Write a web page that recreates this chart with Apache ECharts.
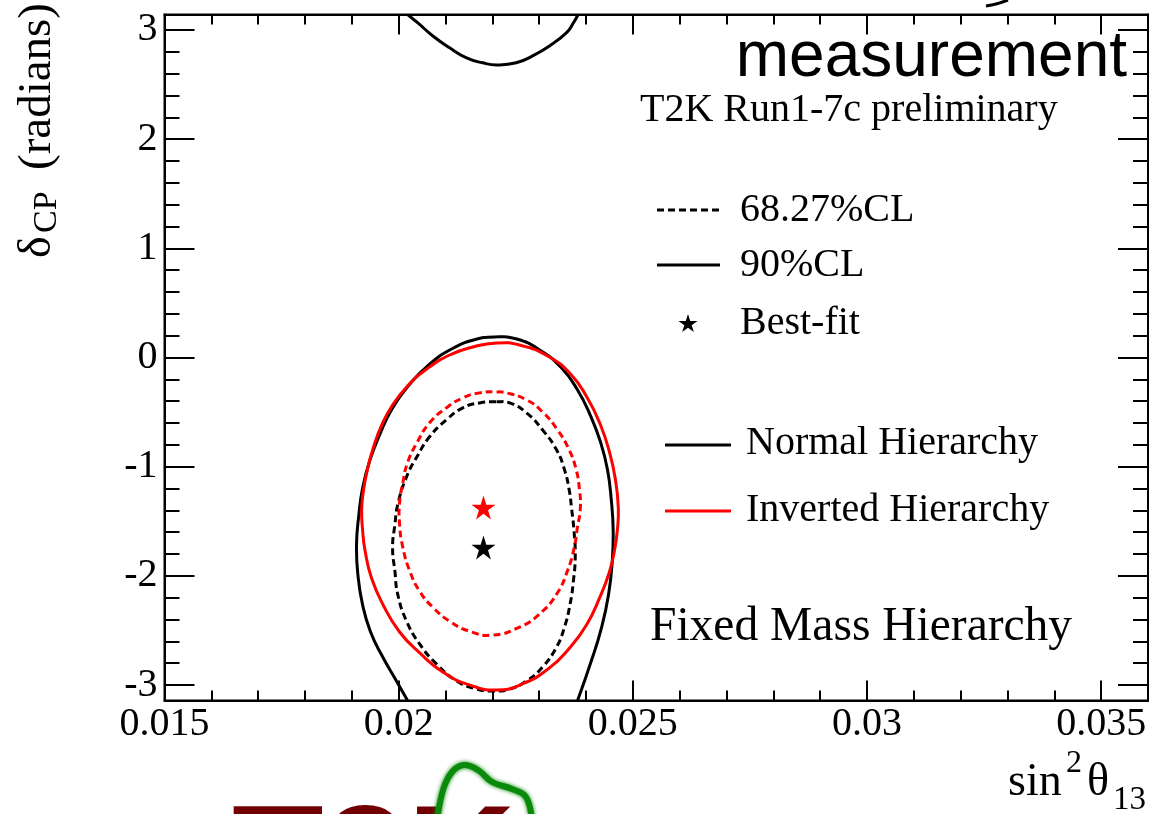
<!DOCTYPE html>
<html>
<head>
<meta charset="utf-8">
<script src="https://cdn.jsdelivr.net/npm/echarts@6/dist/echarts.min.js"></script>
<style>
  html, body { margin: 0; padding: 0; background: #fff; }
  #chart { width: 1154px; height: 814px; }
</style>
</head>
<body>
<div id="chart"></div>
<script>
// sin^2(theta13) vs delta_CP allowed regions, fixed mass hierarchy

const xTicks = [0.015, 0.02, 0.025, 0.03, 0.035];
const xTickLabels = ['0.015', '0.02', '0.025', '0.03', '0.035'];
const xMinorTicks = [0.015, 0.016, 0.017, 0.018, 0.019, 0.020, 0.021, 0.022, 0.023, 0.024, 0.025,
                     0.026, 0.027, 0.028, 0.029, 0.030, 0.031, 0.032, 0.033, 0.034, 0.035, 0.036];
const yTicks = [-3, -2, -1, 0, 1, 2, 3];
const yTickLabels = ['-3', '-2', '-1', '0', '1', '2', '3'];
const yMinorTicks = [-3, -2.8, -2.6, -2.4, -2.2, -2, -1.8, -1.6, -1.4, -1.2, -1, -0.8, -0.6, -0.4, -0.2,
                     0, 0.2, 0.4, 0.6, 0.8, 1, 1.2, 1.4, 1.6, 1.8, 2, 2.2, 2.4, 2.6, 2.8, 3];

// Normal hierarchy, 90% CL: lower lobe runs off the bottom at -pi and re-enters at +pi
const nh90Lower = [
  [0.02019, -3.1416], [0.01994, -2.953], [0.01966, -2.743], [0.01940, -2.514], [0.01923, -2.266],
  [0.01913, -1.992], [0.01910, -1.717], [0.01915, -1.442], [0.01923, -1.195], [0.01938, -0.948],
  [0.01960, -0.701], [0.01987, -0.462], [0.02024, -0.243], [0.02066, -0.060], [0.02113, 0.078],
  [0.02160, 0.160], [0.02205, 0.188], [0.02252, 0.169], [0.02301, 0.069], [0.02348, -0.096],
  [0.02382, -0.298], [0.02409, -0.527], [0.02431, -0.774], [0.02446, -1.030], [0.02454, -1.305],
  [0.02458, -1.580], [0.02456, -1.873], [0.02448, -2.175], [0.02433, -2.477], [0.02412, -2.770],
  [0.02382, -3.1416]
];
const nh90Upper = [
  [0.02019, 3.1416], [0.02041, 3.064], [0.02073, 2.945], [0.02109, 2.836], [0.02145, 2.744],
  [0.02179, 2.699], [0.02209, 2.680], [0.02251, 2.699], [0.02286, 2.763], [0.02322, 2.854],
  [0.02358, 2.973], [0.02373, 3.064], [0.02383, 3.1416]
];
// Inverted hierarchy, 90% CL (closed)
const ih90 = [
  [0.02209, 0.133], [0.02258, 0.114], [0.02318, 0.014], [0.02367, -0.151], [0.02403, -0.371],
  [0.02431, -0.618], [0.02450, -0.865], [0.02463, -1.122], [0.02469, -1.378], [0.02467, -1.580],
  [0.02461, -1.763], [0.02450, -1.964], [0.02429, -2.202], [0.02401, -2.450], [0.02365, -2.660],
  [0.02322, -2.843], [0.02264, -2.990], [0.02209, -3.045], [0.02151, -2.999], [0.02094, -2.880],
  [0.02045, -2.706], [0.02002, -2.514], [0.01968, -2.276], [0.01942, -2.019], [0.01928, -1.763],
  [0.01923, -1.580], [0.01921, -1.397], [0.01925, -1.213], [0.01934, -1.012], [0.01947, -0.810],
  [0.01964, -0.618], [0.01987, -0.435], [0.02019, -0.261], [0.02060, -0.105], [0.02109, 0.023],
  [0.02158, 0.096]
];
// Normal hierarchy, 68.27% CL (closed)
const nh68 = [
  [0.02209, -0.406], [0.02237, -0.416], [0.02273, -0.507], [0.02307, -0.662], [0.02337, -0.845],
  [0.02354, -1.027], [0.02364, -1.210], [0.02369, -1.374], [0.02375, -1.621], [0.02377, -1.831],
  [0.02373, -2.050], [0.02366, -2.260], [0.02354, -2.470], [0.02337, -2.653], [0.02307, -2.836],
  [0.02273, -2.963], [0.02237, -3.037], [0.02200, -3.055], [0.02166, -3.037], [0.02124, -2.963],
  [0.02081, -2.808], [0.02045, -2.626], [0.02017, -2.416], [0.01998, -2.169], [0.01992, -1.959],
  [0.01987, -1.740], [0.01992, -1.530], [0.01998, -1.347], [0.02017, -1.091], [0.02039, -0.909],
  [0.02066, -0.726], [0.02102, -0.571], [0.02137, -0.461], [0.02173, -0.416]
];
// Inverted hierarchy, 68.27% CL (closed)
const ih68 = [
  [0.02209, -0.315], [0.02230, -0.324], [0.02273, -0.388], [0.02307, -0.498], [0.02339, -0.662],
  [0.02364, -0.845], [0.02379, -1.027], [0.02386, -1.210], [0.02388, -1.374], [0.02381, -1.575],
  [0.02375, -1.740], [0.02360, -1.959], [0.02337, -2.169], [0.02300, -2.352], [0.02258, -2.470],
  [0.02200, -2.543], [0.02151, -2.507], [0.02109, -2.416], [0.02073, -2.288], [0.02045, -2.142],
  [0.02024, -1.959], [0.02009, -1.740], [0.02002, -1.530], [0.02002, -1.329], [0.02009, -1.146],
  [0.02019, -0.963], [0.02039, -0.781], [0.02066, -0.598], [0.02102, -0.461], [0.02137, -0.370],
  [0.02173, -0.324]
];
const bestFitNH = [[0.021811, -1.740]];
const bestFitIH = [[0.021811, -1.374]];

const SERIF = '"Liberation Serif", "Times New Roman", serif';
const SANS = '"Liberation Sans", Arial, sans-serif';
const RED = '#ff0000';
const STAR = 'path://M0,-10L2.245,-3.09L9.51,-3.09L3.633,1.18L5.88,8.09L0,3.82L-5.88,8.09L-3.633,1.18L-9.51,-3.09L-2.245,-3.09Z';

const X_MIN = 0.015, X_MAX = 0.036;
const Y_MIN = -Math.PI, Y_MAX = Math.PI;

function labelFor(values, labels) {
  return function (v) {
    for (let i = 0; i < values.length; i++) {
      if (Math.abs(values[i] - v) < 1e-9) return labels[i];
    }
    return '';
  };
}

function makeAxis(kind, position, ticks, tickLen, showLine, labels) {
  const isX = kind === 'x';
  const ax = {
    type: 'value',
    position: position,
    min: isX ? X_MIN : Y_MIN,
    max: isX ? X_MAX : Y_MAX,
    axisLine: { show: showLine, onZero: false, lineStyle: { color: '#000', width: 2 } },
    splitLine: { show: false },
    axisTick: { show: true, inside: true, length: tickLen, customValues: ticks,
                lineStyle: { color: '#000', width: 2 } },
    axisLabel: { show: false }
  };
  if (labels) {
    ax.axisLabel = {
      show: true,
      customValues: ticks,
      formatter: labelFor(ticks, labels),
      color: '#000',
      fontFamily: SERIF,
      fontSize: 40,
      margin: isX ? 4 : 7
    };
  }
  return ax;
}

function starPoints(cx, cy, r) {
  const pts = [];
  for (let i = 0; i < 10; i++) {
    const a = -Math.PI / 2 + i * Math.PI / 5;
    const rr = i % 2 === 0 ? r : r * 0.382;
    pts.push([cx + rr * Math.cos(a), cy + rr * Math.sin(a)]);
  }
  return pts;
}

// One smooth contour per series: the points go through the cartesian scales via api.coord.
function contour(name, data, color, dashed, closed) {
  return {
    name: name,
    type: 'custom',
    coordinateSystem: 'cartesian2d',
    data: data,
    encode: { x: 0, y: 1 },
    clip: true,
    silent: true,
    renderItem: function (params, api) {
      if (params.dataIndex !== 0) return null;
      const pts = data.map(function (p) { return api.coord(p); });
      return {
        type: closed ? 'polygon' : 'polyline',
        shape: { points: pts, smooth: 0.5 },
        style: { fill: 'none', stroke: color, lineWidth: 3,
                 lineDash: dashed ? [7, 4] : null, lineJoin: 'round' }
      };
    }
  };
}

function txt(x, y, text, size, family, align, extra) {
  return Object.assign({
    type: 'text', x: x, y: y,
    style: { text: text, font: size + 'px ' + family, fill: '#000',
             textAlign: align || 'left', textVerticalAlign: 'middle', verticalAlign: 'middle' }
  }, extra || {});
}

const option = {
  animation: false,
  backgroundColor: '#fff',
  grid: {
    left: 164.5, right: 6, top: 14.5, bottom: 113.5,
    show: true, borderColor: '#000', borderWidth: 2,
    containLabel: false, outerBoundsMode: 'none'
  },
  xAxis: [
    makeAxis('x', 'bottom', xTicks, 20, true, xTickLabels),
    makeAxis('x', 'bottom', xMinorTicks, 10, false, null),
    makeAxis('x', 'top', xTicks, 20, true, null),
    makeAxis('x', 'top', xMinorTicks, 10, false, null)
  ],
  yAxis: [
    makeAxis('y', 'left', yTicks, 30, true, yTickLabels),
    makeAxis('y', 'left', yMinorTicks, 15, false, null),
    makeAxis('y', 'right', yTicks, 30, true, null),
    makeAxis('y', 'right', yMinorTicks, 15, false, null)
  ],
  series: [
    contour('NH 90% CL', nh90Lower, '#000', false, false),
    contour('NH 90% CL (upper)', nh90Upper, '#000', false, false),
    contour('NH 68.27% CL', nh68, '#000', true, true),
    contour('IH 90% CL', ih90, RED, false, true),
    contour('IH 68.27% CL', ih68, RED, true, true),
    { name: 'NH best fit', type: 'scatter', data: bestFitNH, symbol: STAR, symbolSize: 24,
      itemStyle: { color: '#000', opacity: 1 }, silent: true },
    { name: 'IH best fit', type: 'scatter', data: bestFitIH, symbol: STAR, symbolSize: 24,
      itemStyle: { color: RED, opacity: 1 }, silent: true }
  ],
  graphic: { elements: [
    // headline and run label
    txt(1127, 58, 'measurement', 64, SANS, 'right'),
    txt(640, 110, 'T2K Run1-7c preliminary', 40, SERIF, 'left'),
    // confidence-level key
    { type: 'line', shape: { x1: 657, y1: 210, x2: 720, y2: 210 },
      style: { stroke: '#000', lineWidth: 3, lineDash: [7, 4] } },
    txt(740, 210, '68.27%CL', 40, SERIF, 'left'),
    { type: 'line', shape: { x1: 657, y1: 265, x2: 720, y2: 265 },
      style: { stroke: '#000', lineWidth: 3 } },
    txt(740, 265, '90%CL', 40, SERIF, 'left'),
    { type: 'polygon', shape: { points: starPoints(688, 324, 10) }, style: { fill: '#000' } },
    txt(740, 323, 'Best-fit', 40, SERIF, 'left'),
    // hierarchy key
    { type: 'line', shape: { x1: 665, y1: 445, x2: 731, y2: 445 },
      style: { stroke: '#000', lineWidth: 3 } },
    txt(746, 443, 'Normal Hierarchy', 40, SERIF, 'left'),
    { type: 'line', shape: { x1: 665, y1: 511, x2: 731, y2: 511 },
      style: { stroke: RED, lineWidth: 3 } },
    txt(746, 510, 'Inverted Hierarchy', 40, SERIF, 'left'),
    txt(650, 628, 'Fixed Mass Hierarchy', 47.5, SERIF, 'left'),
    // y-axis title, reading upward
    { type: 'group', x: 38, y: 258, rotation: Math.PI / 2, children: [
      txt(0, 0, 'δ', 46, SERIF, 'left'),
      txt(25, 9, 'CP', 34, SERIF, 'left'),
      txt(88, 0, '(radians)', 47, SERIF, 'left')
    ] },
    // x-axis title
    txt(1008, 783, 'sin', 46, SERIF, 'left'),
    txt(1066, 764, '2', 32, SERIF, 'left'),
    txt(1087, 783, 'θ', 46, SERIF, 'left'),
    txt(1113, 800, '13', 33, SERIF, 'left'),
    // logo fragments along the lower edge
    { type: 'text', x: 232, y: 794,
      style: { text: 'T2K', font: 'bold 150px ' + SANS, fill: '#720000',
               textAlign: 'left', textVerticalAlign: 'top', verticalAlign: 'top',
               shadowBlur: 3, shadowColor: '#720000' } },
    { type: 'polyline', shape: { points: [[437, 822], [443, 790], [452, 772], [464, 765], [478, 770],
        [492, 782], [512, 789], [526, 797], [532, 822]], smooth: 0.4 },
      style: { stroke: '#0a8a0a', lineWidth: 6, fill: null, shadowBlur: 4, shadowColor: '#0a8a0a' } },
    // clipped glyph at the top edge
    { type: 'polyline', shape: { points: [[986, 6], [996, 4], [1008, 0]], smooth: 0.4 },
      style: { stroke: '#000', lineWidth: 3, fill: null } }
  ] }
};

const chart = echarts.init(document.getElementById('chart'));
chart.setOption(option);
</script>
</body>
</html>
